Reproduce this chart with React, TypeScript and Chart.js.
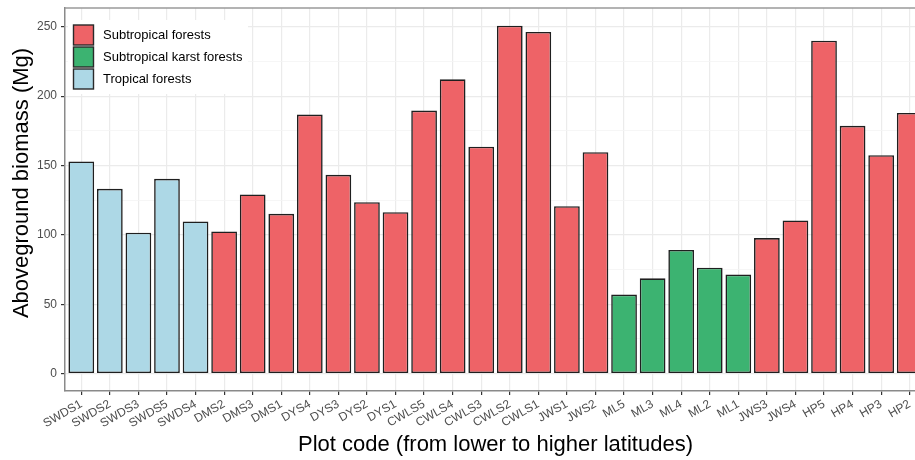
import React, { useEffect, useRef } from "react";
import { Chart, registerables } from "chart.js";

Chart.register(...registerables);

const plotCodes = [
  "SWDS1", "SWDS2", "SWDS3", "SWDS5", "SWDS4", "DMS2", "DMS3", "DMS1", "DYS4", "DYS3",
  "DYS2", "DYS1", "CWLS5", "CWLS4", "CWLS3", "CWLS2", "CWLS1", "JWS1", "JWS2", "ML5",
  "ML3", "ML4", "ML2", "ML1", "JWS3", "JWS4", "HP5", "HP4", "HP3", "HP2",
];
const biomass = [
  152.9, 133.2, 101.6, 140.4, 109.7, 102.5, 129.1, 115.2, 186.7, 143.3,
  123.6, 116.4, 189.6, 212.1, 163.5, 250.7, 246.2, 120.7, 159.6, 57.0,
  68.7, 89.1, 76.4, 71.4, 97.7, 110.4, 239.9, 178.6, 157.4, 187.9,
];
// 0 = Subtropical forests, 1 = Subtropical karst forests, 2 = Tropical forests
const forestType = [
  2, 2, 2, 2, 2, 0, 0, 0, 0, 0,
  0, 0, 0, 0, 0, 0, 0, 0, 0, 1,
  1, 1, 1, 1, 0, 0, 0, 0, 0, 0,
];
const legendLabels = ["Subtropical forests", "Subtropical karst forests", "Tropical forests"];
const legendColors = ["#EE6367", "#3CB371", "#ADD8E6"];
const yGridValues = [0, 25, 50, 75, 100, 125, 150, 175, 200, 225, 250];
const yLabelStep = 50;
const xTitle = "Plot code (from lower to higher latitudes)";
const yTitle = "Aboveground biomass (Mg)";

const FONT = "'Liberation Sans', Arial, sans-serif";

const overlayPlugin = {
  id: "overlay",
  afterDraw(chart: any) {
    const { ctx, chartArea } = chart;
    ctx.save();
    // top panel border
    ctx.strokeStyle = "#9a9a9a";
    ctx.lineWidth = 1.5;
    ctx.beginPath();
    ctx.moveTo(chartArea.left, chartArea.top);
    ctx.lineTo(chartArea.right, chartArea.top);
    ctx.stroke();
    // y axis title
    ctx.save();
    ctx.translate(28, chartArea.top + 175);
    ctx.rotate(-Math.PI / 2);
    ctx.font = `22px ${FONT}`;
    ctx.fillStyle = "#000000";
    ctx.textAlign = "center";
    ctx.textBaseline = "alphabetic";
    ctx.fillText(yTitle, 0, 0);
    ctx.restore();
    // legend
    const lx = chartArea.left + 3;
    const ly = chartArea.top + 12;
    ctx.fillStyle = "#ffffff";
    ctx.fillRect(lx, ly, 180, 74);
    ctx.font = `13px ${FONT}`;
    ctx.textBaseline = "middle";
    ctx.textAlign = "left";
    legendLabels.forEach((label, i) => {
      const kx = chartArea.left + 8.5;
      const ky = chartArea.top + 17 + i * 22;
      ctx.fillStyle = legendColors[i];
      ctx.fillRect(kx, ky, 20, 20);
      ctx.strokeStyle = "#2a2a2a";
      ctx.lineWidth = 1.4;
      ctx.strokeRect(kx, ky, 20, 20);
      ctx.fillStyle = "#000000";
      ctx.fillText(label, chartArea.left + 38, ky + 10.5);
    });
    ctx.restore();
  },
};

export default function App() {
  const canvasRef = useRef<HTMLCanvasElement | null>(null);

  useEffect(() => {
    if (!canvasRef.current) return;
    const n = plotCodes.length;
    const chart = new Chart(canvasRef.current, {
      type: "bar",
      data: {
        datasets: [
          {
            data: biomass.map((v, i) => ({ x: i, y: v })),
            backgroundColor: forestType.map((t) => legendColors[t]),
            borderColor: "#1f1f1f",
            borderWidth: 1.6,
            borderSkipped: false,
            barPercentage: 0.9,
            categoryPercentage: 1,
          },
        ],
      },
      options: {
        responsive: false,
        animation: false,
        layout: { padding: { left: 0, top: 8, right: 10, bottom: 0 } },
        plugins: {
          legend: { display: false },
          tooltip: { enabled: false },
        },
        scales: {
          x: {
            type: "linear",
            offset: false,
            min: -0.57,
            max: n - 1 + 0.57,
            afterBuildTicks: (s: any) => {
              s.ticks = plotCodes.map((_, i) => ({ value: i }));
            },
            afterFit: (s: any) => {
              s.height = 69;
            },
            ticks: {
              autoSkip: false,
              maxRotation: 30,
              minRotation: 30,
              padding: 2,
              color: "#4D4D4D",
              font: { size: 12, family: FONT },
              callback: (v: any) => plotCodes[v] ?? "",
            },
            grid: {
              offset: false,
              color: "#EBEBEB",
              lineWidth: 1.2,
              tickLength: 4,
              tickColor: "#333333",
            },
            border: { color: "#8a8a8a", width: 1.5 },
            title: {
              display: true,
              text: xTitle,
              color: "#000000",
              font: { size: 22, family: FONT },
              padding: { top: 0, bottom: 2 },
            },
          },
          y: {
            min: -12.5,
            max: 263.5,
            afterBuildTicks: (s: any) => {
              s.ticks = yGridValues.map((v) => ({ value: v }));
            },
            afterFit: (s: any) => {
              s.width = 65;
              s.paddingTop = 0;
              s.paddingBottom = 0;
            },
            ticks: {
              padding: 4,
              color: "#4D4D4D",
              font: { size: 12, family: FONT },
              callback: (v: any) => (v % yLabelStep === 0 ? String(v) : ""),
            },
            grid: {
              color: (c: any) => (c.tick && c.tick.value % yLabelStep === 0 ? "#EBEBEB" : "#F4F4F4"),
              lineWidth: (c: any) => (c.tick && c.tick.value % yLabelStep === 0 ? 1.2 : 0.8),
              tickLength: 4,
              tickColor: (c: any) => (c.tick && c.tick.value % yLabelStep === 0 ? "#333333" : "rgba(0,0,0,0)"),
            },
            border: { color: "#8a8a8a", width: 1.5 },
          },
        },
      },
      plugins: [overlayPlugin],
    } as any);
    return () => chart.destroy();
  }, []);

  return (
    <div
      style={{
        position: "fixed",
        left: 0,
        top: 0,
        width: 915,
        height: 460,
        overflow: "hidden",
        background: "#ffffff",
      }}
    >
      <canvas ref={canvasRef} width={936} height={460} style={{ width: 936, height: 460, display: "block" }} />
    </div>
  );
}
